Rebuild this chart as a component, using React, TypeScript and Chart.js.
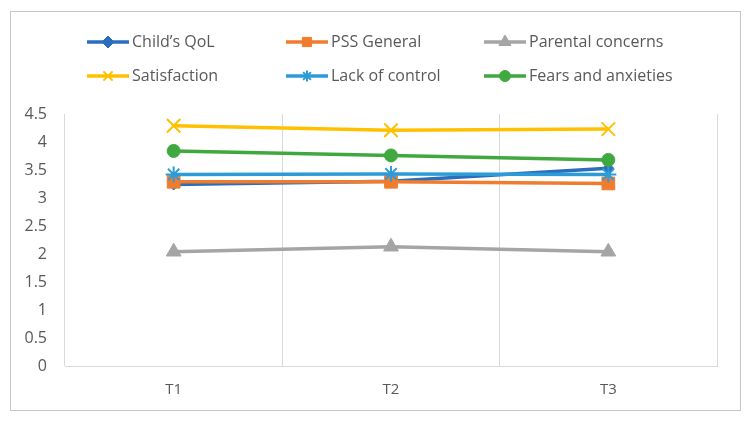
import React, { useEffect, useRef } from "react";
import { Chart, registerables } from "chart.js";
import { drawPoint } from "chart.js/helpers";

Chart.register(...registerables);

const categories = ["T1", "T2", "T3"];
const seriesNames = [
  "Child\u2019s QoL",
  "PSS General",
  "Parental concerns",
  "Satisfaction",
  "Lack of control",
  "Fears and anxieties",
];
const childQoL = [3.24, 3.3, 3.53];
const pssGeneral = [3.29, 3.29, 3.26];
const parentalConcerns = [2.04, 2.13, 2.04];
const satisfaction = [4.29, 4.21, 4.23];
const lackOfControl = [3.42, 3.43, 3.42];
const fearsAnxieties = [3.84, 3.76, 3.68];
const yTicks = [0, 0.5, 1, 1.5, 2, 2.5, 3, 3.5, 4, 4.5];

const colors = ["#2B6EBD", "#F07C2E", "#A5A5A5", "#FFC000", "#2E9BD9", "#3FA83F"];
const styles = ["rectRot", "rect", "triangle", "crossRot", "star", "circle"];
const radii = [5.5, 9, 8.5, 9.5, 8, 6.5];
const legendRadii = [6, 6.5, 7, 6.5, 5.5, 5.5];
const FONT = "'Open Sans', sans-serif";

const legendPlugin = {
  id: "excelLegend",
  afterDraw(chart: any) {
    const ctx = chart.ctx;
    const colX = [87, 286, 484];
    const rowY = [42, 76];
    const len = 42;
    chart.data.datasets.forEach((ds: any, i: number) => {
      const x0 = colX[i % 3];
      const y = rowY[Math.floor(i / 3)];
      ctx.save();
      ctx.strokeStyle = ds.borderColor;
      ctx.lineWidth = 3.5;
      ctx.lineCap = "butt";
      ctx.beginPath();
      ctx.moveTo(x0, y);
      ctx.lineTo(x0 + len, y);
      ctx.stroke();
      ctx.fillStyle = ds.pointBackgroundColor;
      ctx.strokeStyle = ds.pointBorderColor;
      ctx.lineWidth = ds.pointBorderWidth;
      drawPoint(ctx, { pointStyle: ds.pointStyle, radius: legendRadii[i], rotation: 0, borderWidth: ds.pointBorderWidth }, x0 + len / 2, y);
      ctx.fillStyle = "#595959";
      ctx.font = "16px " + FONT;
      ctx.textBaseline = "middle";
      ctx.textAlign = "left";
      ctx.fillText(ds.label, x0 + len + 3, y);
      ctx.restore();
    });
  },
};

export default function App() {
  const ref = useRef<HTMLCanvasElement>(null);
  useEffect(() => {
    if (!ref.current) return;
    const values = [childQoL, pssGeneral, parentalConcerns, satisfaction, lackOfControl, fearsAnxieties];
    const chart = new Chart(ref.current, {
      type: "line",
      data: {
        labels: categories,
        datasets: values.map((v, i) => ({
          label: seriesNames[i],
          data: v,
          borderColor: colors[i],
          backgroundColor: colors[i],
          pointBackgroundColor: colors[i],
          pointBorderColor: colors[i],
          pointBorderWidth: styles[i] === "crossRot" || styles[i] === "star" ? 2 : 1,
          pointStyle: styles[i] as any,
          pointRadius: radii[i],
          borderWidth: 3.5,
          tension: 0,
          fill: false,
          order: 5 - i,
        })),
      },
      options: {
        animation: false,
        responsive: true,
        maintainAspectRatio: false,
        layout: { padding: { top: 114, right: 36, bottom: 0, left: 0 } },
        plugins: { legend: { display: false }, tooltip: { enabled: false } },
        scales: {
          x: {
            offset: true,
            grid: { offset: true, color: "#D9D9D9", lineWidth: 1, drawTicks: false },
            border: { color: "#D9D9D9", width: 1 },
            ticks: { color: "#595959", font: { family: FONT, size: 15 }, padding: 15 },
            afterFit: (s: any) => { s.height = 57; },
          },
          y: {
            min: 0,
            max: 4.5,
            afterBuildTicks: (s: any) => { s.ticks = yTicks.map((v) => ({ value: v })); },
            grid: { display: false, drawTicks: false },
            border: { display: false },
            ticks: {
              color: "#595959",
              font: { family: FONT, size: 16 },
              padding: 18,
              callback: (v: any) => String(v),
            },
            afterFit: (s: any) => { s.width = 65; },
          },
        },
      },
      plugins: [legendPlugin],
    });
    return () => chart.destroy();
  }, []);
  return (
    <div style={{ position: "fixed", left: 0, top: 0, width: 753, height: 423, background: "#fff" }}>
      <div style={{ position: "absolute", left: 10, top: 11, width: 729, height: 398, border: "1px solid #C6C6C6" }} />
      <canvas ref={ref} />
    </div>
  );
}
